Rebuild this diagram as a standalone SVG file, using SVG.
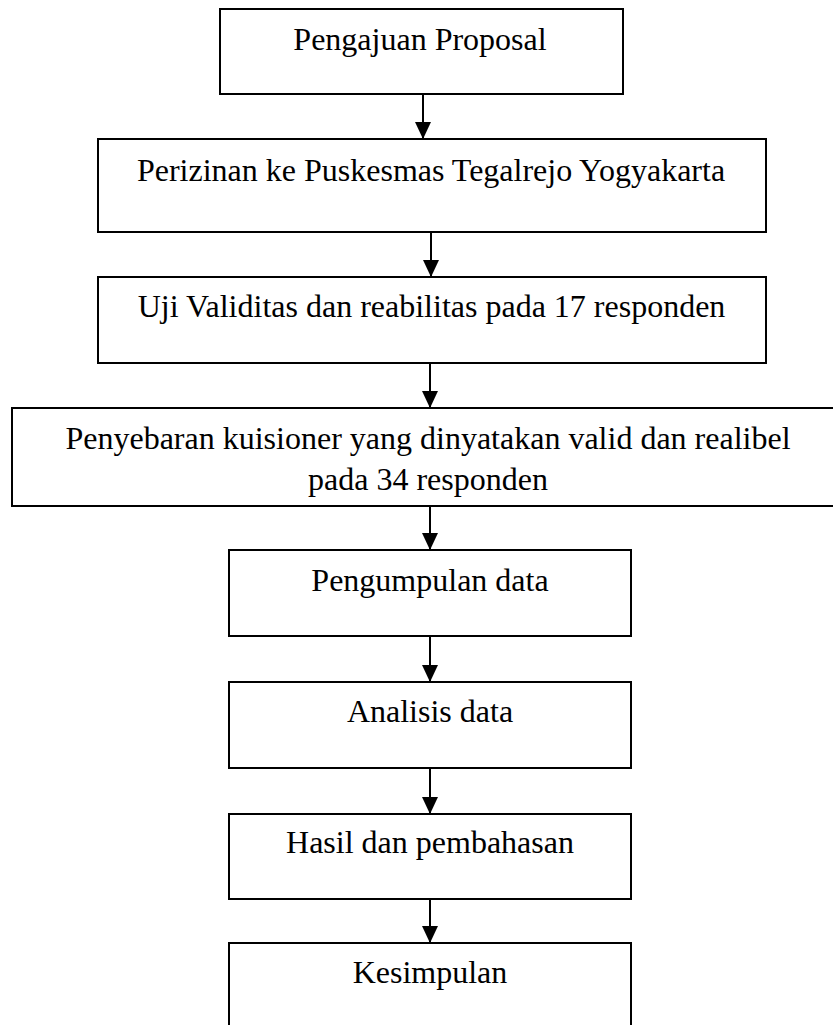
<svg xmlns="http://www.w3.org/2000/svg" width="833" height="1025" viewBox="0 0 833 1025">
<style>
.box{fill:#fff;stroke:#000;stroke-width:2}
.lbl{font-family:"Liberation Serif","Times New Roman",serif;font-size:32px;fill:#000;text-anchor:middle}
.conn{stroke:#000;stroke-width:2;fill:none;marker-end:url(#ah)}
</style>
<defs>
<marker id="ah" markerUnits="userSpaceOnUse" markerWidth="17" markerHeight="16" refX="17" refY="8" orient="auto" viewBox="0 0 17 16">
<path d="M0,0 L17,8 L0,16 z" fill="#000"/>
</marker>
</defs>
<rect width="833" height="1025" fill="#fff"/>
<g id="n1"><rect class="box" x="220" y="9" width="403" height="85"/><text class="lbl" x="420" y="50">Pengajuan Proposal</text></g>
<g id="n2"><rect class="box" x="98" y="139" width="668" height="93"/><text class="lbl" x="431" y="181">Perizinan ke Puskesmas Tegalrejo Yogyakarta</text></g>
<g id="n3"><rect class="box" x="98" y="277" width="668" height="86"/><text class="lbl" x="431.5" y="317">Uji Validitas dan reabilitas pada 17 responden</text></g>
<g id="n4"><rect class="box" x="12" y="408" width="825" height="98"/><text class="lbl" x="428" y="449">Penyebaran kuisioner yang dinyatakan valid dan realibel</text><text class="lbl" x="428" y="490">pada 34 responden</text></g>
<g id="n5"><rect class="box" x="229" y="550" width="402" height="86"/><text class="lbl" x="430" y="591">Pengumpulan data</text></g>
<g id="n6"><rect class="box" x="229" y="682" width="402" height="86"/><text class="lbl" x="430" y="722">Analisis data</text></g>
<g id="n7"><rect class="box" x="229" y="814" width="402" height="85"/><text class="lbl" x="430" y="853">Hasil dan pembahasan</text></g>
<g id="n8"><path class="box" d="M229,1030 L229,943 L631,943 L631,1030"/><text class="lbl" x="430" y="983">Kesimpulan</text></g>
<g id="connectors">
<line class="conn" x1="423" y1="94" x2="423" y2="139"/>
<line class="conn" x1="431" y1="232" x2="431" y2="277"/>
<line class="conn" x1="430" y1="363" x2="430" y2="408"/>
<line class="conn" x1="430" y1="506" x2="430" y2="550"/>
<line class="conn" x1="430" y1="636" x2="430" y2="682"/>
<line class="conn" x1="430" y1="768" x2="430" y2="814"/>
<line class="conn" x1="430" y1="899" x2="430" y2="943"/>
</g>
</svg>
